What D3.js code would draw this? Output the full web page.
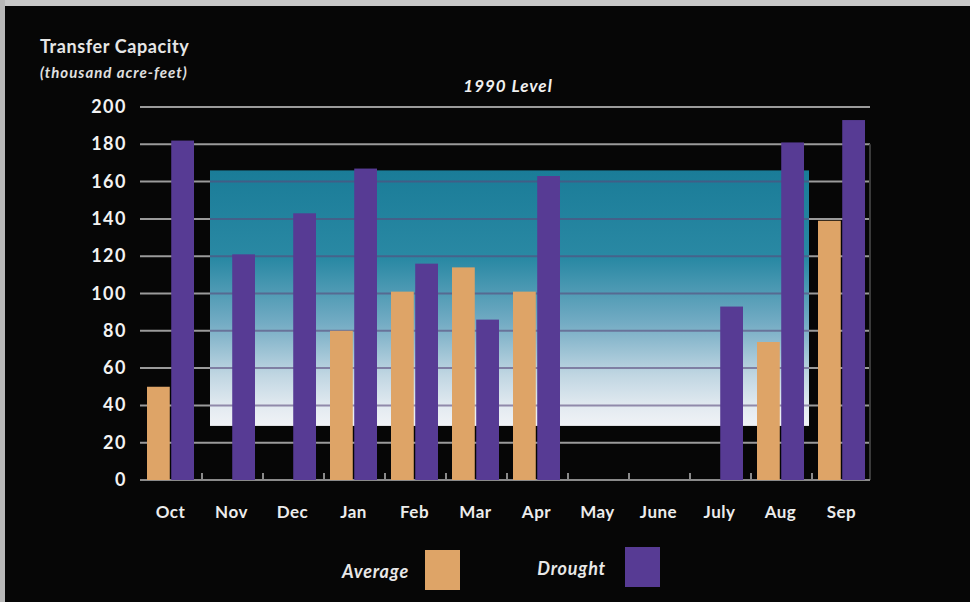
<!DOCTYPE html>
<html>
<head>
<meta charset="utf-8">
<script src="https://cdn.jsdelivr.net/npm/d3@7"></script>
<style>
  html, body { margin: 0; padding: 0; background: #050505; }
  svg { display: block; }
  text { font-family: Lato, "Open Sans", sans-serif; }
</style>
</head>
<body>
<svg id="chart" width="970" height="602"></svg>
<script>
const months = ["Oct","Nov","Dec","Jan","Feb","Mar","Apr","May","June","July","Aug","Sep"];
const averageValues = [50, 0, 0, 80, 101, 114, 101, 0, 0, 0, 74, 139];
const droughtValues = [182, 121, 143, 167, 116, 86, 163, 0, 0, 93, 181, 193];
const yTicks = [0, 20, 40, 60, 80, 100, 120, 140, 160, 180, 200];
const series = ["Average", "Drought"];
const levelRange = [29, 166]; // 1990 level band (thousand acre-feet)

const colors = { Average: "#dea467", Drought: "#573b94" };

const svg = d3.select("#chart");
const W = 970, H = 602;

// background and scan border
svg.append("rect").attr("width", W).attr("height", H).attr("fill", "#060606");
svg.append("rect").attr("x", 0).attr("y", 0).attr("width", W).attr("height", 6).attr("fill", "#c8c8c8");
svg.append("rect").attr("x", 0).attr("y", 0).attr("width", 5).attr("height", H).attr("fill", "#b8b8b8");

const x = d3.scaleBand().domain(months).range([140, 872]).paddingInner(0).paddingOuter(0);
const y = d3.scaleLinear().domain([0, 200]).range([480, 107]);
const xs = d3.scaleBand().domain(series).range([7, 54]).paddingInner(0.06);

// gradient definition
const defs = svg.append("defs");
const grad = defs.append("linearGradient").attr("id", "lvl").attr("x1", 0).attr("y1", 0).attr("x2", 0).attr("y2", 1);
[[0, "#1a7c98"], [0.35, "#2a89a4"], [0.6, "#74acc4"], [0.8, "#c0d6e2"], [0.93, "#e4ebf1"], [1, "#f0f2f6"]]
  .forEach(([o, c]) => grad.append("stop").attr("offset", o).attr("stop-color", c));

// gridlines (outside band)
svg.append("g").selectAll("line").data(yTicks.filter(d => d > 0)).join("line")
  .attr("x1", 140).attr("x2", 870)
  .attr("y1", d => y(d)).attr("y2", d => y(d))
  .attr("stroke", "#9a9a9a").attr("stroke-width", 2);

// 1990 level band
const bandX0 = 210, bandX1 = 809;
svg.append("rect")
  .attr("x", bandX0).attr("width", bandX1 - bandX0)
  .attr("y", y(levelRange[1])).attr("height", y(levelRange[0]) - y(levelRange[1]))
  .attr("fill", "url(#lvl)");

// gridlines inside band (darker)
svg.append("g").selectAll("line")
  .data(yTicks.filter(d => d > levelRange[0] && d < levelRange[1])).join("line")
  .attr("x1", bandX0).attr("x2", bandX1)
  .attr("y1", d => y(d)).attr("y2", d => y(d))
  .attr("stroke", "#5a4a7c").attr("stroke-opacity", 0.6).attr("stroke-width", 2);

// right axis line
svg.append("line").attr("x1", 870).attr("x2", 870).attr("y1", y(180)).attr("y2", y(0))
  .attr("stroke", "#3a3a3a").attr("stroke-width", 2);

// baseline
svg.append("line").attr("x1", 140).attr("x2", 870).attr("y1", y(0)).attr("y2", y(0))
  .attr("stroke", "#8a8a8a").attr("stroke-width", 2);

// ticks between groups
svg.append("g").selectAll("line").data(months.slice(1)).join("line")
  .attr("x1", d => x(d) + 1).attr("x2", d => x(d) + 1)
  .attr("y1", y(0)).attr("y2", y(0) - 7)
  .attr("stroke", "#8a8a8a").attr("stroke-width", 2);

// bars
const rows = months.map((m, i) => ({ month: m, Average: averageValues[i], Drought: droughtValues[i] }));
const groups = svg.append("g").selectAll("g").data(rows).join("g")
  .attr("transform", d => `translate(${x(d.month)},0)`);
groups.selectAll("rect").data(d => series.map(s => ({ s, v: d[s] }))).join("rect")
  .attr("x", d => xs(d.s)).attr("width", xs.bandwidth())
  .attr("y", d => y(d.v)).attr("height", d => y(0) - y(d.v))
  .attr("fill", d => colors[d.s]);

// y axis labels
svg.append("g").selectAll("text").data(yTicks).join("text")
  .attr("x", 127).attr("y", d => y(d) + 6)
  .attr("text-anchor", "end").attr("fill", "#f2f2f2")
  .attr("font-size", 18).attr("font-weight", "bold").attr("letter-spacing", 1.5)
  .text(d => d);

// x axis labels
svg.append("g").selectAll("text").data(months).join("text")
  .attr("x", d => x(d) + x.bandwidth() / 2).attr("y", 518)
  .attr("text-anchor", "middle").attr("fill", "#ececec")
  .attr("font-size", 17).attr("font-weight", "bold").attr("letter-spacing", 0.5)
  .text(d => d);

// titles
svg.append("text").attr("x", 40).attr("y", 53).attr("fill", "#e6e6e6")
  .attr("font-size", 18).attr("font-weight", "bold").attr("letter-spacing", 0.6).text("Transfer Capacity");
svg.append("text").attr("x", 40).attr("y", 78).attr("fill", "#e0e0e0")
  .attr("font-size", 15).attr("font-weight", "bold").attr("font-style", "italic").attr("letter-spacing", 1)
  .text("(thousand acre-feet)");
svg.append("text").attr("x", 508).attr("y", 92).attr("fill", "#f0f0f0")
  .attr("text-anchor", "middle")
  .attr("font-size", 17).attr("font-weight", "bold").attr("font-style", "italic").attr("letter-spacing", 1)
  .text("1990 Level");

// legend
const legend = [
  { s: "Average", tx: 409, sx: 425, sy: 550 },
  { s: "Drought", tx: 606, sx: 625, sy: 547 }
];
legend.forEach(l => {
  svg.append("text").attr("x", l.tx).attr("y", l.sy + 28).attr("text-anchor", "end")
    .attr("fill", "#e8e8e8").attr("font-size", 18).attr("font-weight", "bold").attr("font-style", "italic")
    .attr("letter-spacing", 0.8)
    .text(l.s);
  svg.append("rect").attr("x", l.sx).attr("y", l.sy).attr("width", 35).attr("height", 40)
    .attr("fill", colors[l.s]);
});
</script>
</body>
</html>
